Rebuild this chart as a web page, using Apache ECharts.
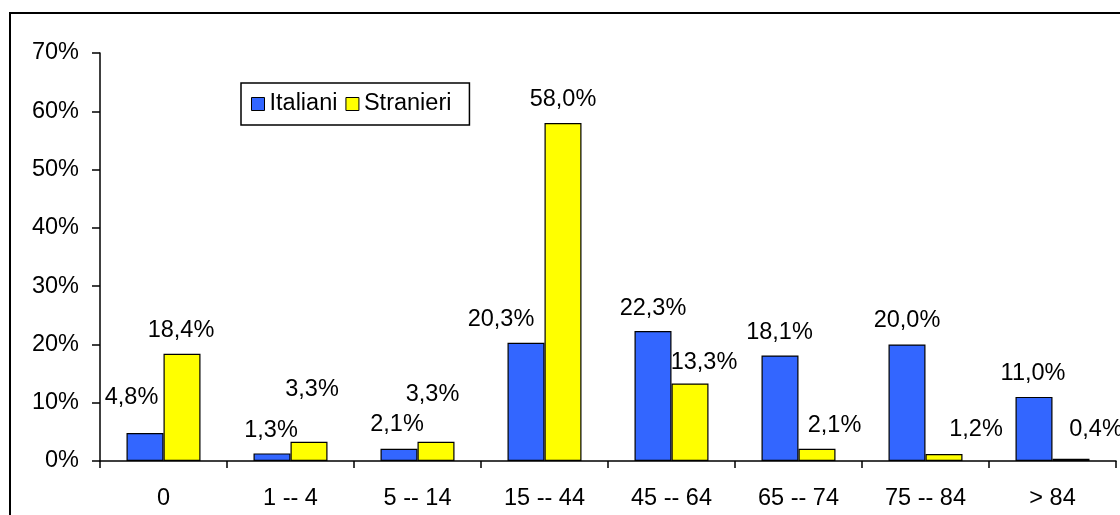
<!DOCTYPE html>
<html>
<head>
<meta charset="utf-8">
<script src="https://cdn.jsdelivr.net/npm/echarts@6/dist/echarts.min.js"></script>
<style>
  html, body { margin: 0; padding: 0; background: #fff; }
  #chart { width: 1120px; height: 515px; }
</style>
</head>
<body>
<div id="chart"></div>
<script>
// ---- data ----
var categories = ['0', '1 -- 4', '5 -- 14', '15 -- 44', '45 -- 64', '65 -- 74', '75 -- 84', '> 84'];
var italiani   = [4.8, 1.3, 2.1, 20.3, 22.3, 18.1, 20.0, 11.0];
var stranieri  = [18.4, 3.3, 3.3, 58.0, 13.3, 2.1, 1.2, 0.4];
var yTicks     = [0, 10, 20, 30, 40, 50, 60, 70];

// ---- styling ----
var FONT = 'Liberation Sans, Arial, sans-serif';
var FS = 23.5;
// label nudges (pixels) to mimic the original label placement
var italOffsets = [[-13.5, -13], [-1, 0], [-2, -1], [-25, 0], [0, 0], [-0.5, 0], [0, -1], [-1, 0]];
var stranOffsets = [[-1, 0], [3, -29], [-3.5, -24], [0, 0], [14, 2.5], [17.5, 0], [32, -1], [25, -6]];

function fmt(v) { return v.toFixed(1).replace('.', ',') + '%'; }

function makeData(values, offsets) {
  return values.map(function (v, i) {
    return { value: v, label: { offset: offsets[i] } };
  });
}

var chart = echarts.init(document.getElementById('chart'), null, { renderer: 'canvas' });

var commonLabel = {
  show: true,
  position: 'top',
  distance: 11,
  color: '#000',
  fontFamily: FONT,
  fontSize: FS,
  formatter: function (p) { return fmt(p.value); }
};

var option = {
  backgroundColor: '#fff',
  animation: false,
  textStyle: { fontFamily: FONT },
  graphic: [{
    type: 'rect',
    z: -10,
    shape: { x: 10, y: 13, width: 1200, height: 600 },
    style: { fill: 'none', stroke: '#000', lineWidth: 2 }
  }],
  legend: {
    left: 241,
    top: 83,
    orient: 'horizontal',
    icon: 'rect',
    itemWidth: 13,
    itemHeight: 13,
    itemGap: 8,
    padding: [9, 18, 9, 10],
    borderColor: '#000',
    borderWidth: 1.5,
    backgroundColor: '#fff',
    itemStyle: { borderColor: '#000', borderWidth: 1 },
    textStyle: { color: '#000', fontFamily: FONT, fontSize: FS },
    data: ['Italiani', 'Stranieri']
  },
  grid: { left: 100, right: 4, top: 53, bottom: 54, containLabel: false },
  xAxis: {
    type: 'category',
    data: categories,
    boundaryGap: true,
    axisLine: { lineStyle: { color: '#000', width: 1.5 } },
    axisTick: { show: true, length: 7, alignWithLabel: false, lineStyle: { color: '#000', width: 1.5 } },
    axisLabel: { color: '#000', fontFamily: FONT, fontSize: FS, margin: 26, interval: 0 },
    splitLine: { show: false }
  },
  yAxis: {
    type: 'value',
    min: yTicks[0],
    max: yTicks[yTicks.length - 1],
    interval: 10,
    axisLine: { show: true, lineStyle: { color: '#000', width: 1.5 } },
    axisTick: { show: true, length: 8, inside: false, lineStyle: { color: '#000', width: 1.5 } },
    axisLabel: { color: '#000', fontFamily: FONT, fontSize: FS, margin: 21, padding: [5, 0, 0, 0], formatter: '{value}%' },
    splitLine: { show: false }
  },
  series: [{
    name: 'Italiani',
    type: 'bar',
    barWidth: 37,
    barGap: '0%',
    itemStyle: { color: '#3366FF', borderColor: '#000', borderWidth: 1.2 },
    label: commonLabel,
    data: makeData(italiani, italOffsets)
  }, {
    name: 'Stranieri',
    type: 'bar',
    barWidth: 37,
    barGap: '0%',
    itemStyle: { color: '#FFFF00', borderColor: '#000', borderWidth: 1.2 },
    label: commonLabel,
    data: makeData(stranieri, stranOffsets)
  }]
};

chart.setOption(option);
</script>
</body>
</html>
